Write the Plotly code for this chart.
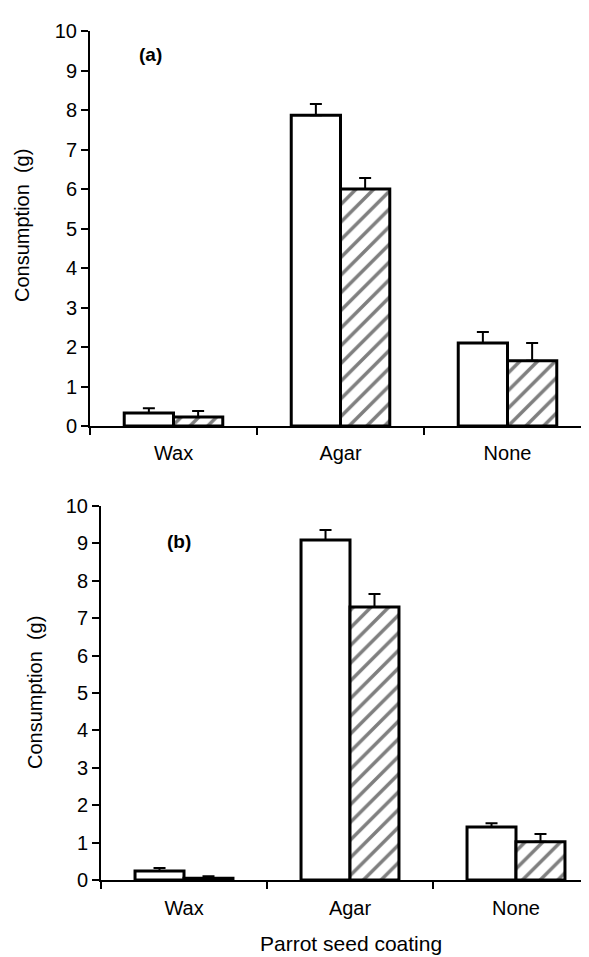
import plotly.graph_objects as go

categories = ["Wax", "Agar", "None"]

# Panel (a)
a_open = [0.33, 7.87, 2.10]
a_open_err = [0.12, 0.28, 0.28]
a_hatch = [0.23, 6.00, 1.65]
a_hatch_err = [0.15, 0.28, 0.45]

# Panel (b)
b_open = [0.24, 9.09, 1.42]
b_open_err = [0.08, 0.27, 0.10]
b_hatch = [0.05, 7.30, 1.02]
b_hatch_err = [0.05, 0.35, 0.21]

y_ticks = list(range(0, 11))

W, H = 589, 957
OFF = 8  # page body margin
FONT = "Liberation Sans, Arial, sans-serif"


def err(vals):
    return dict(type="data", array=vals, arrayminus=[0] * len(vals), symmetric=False,
                color="black", thickness=2, width=6)


fig = go.Figure()

for (op, ope, ha, hae, xa, ya) in [
    (a_open, a_open_err, a_hatch, a_hatch_err, "x", "y"),
    (b_open, b_open_err, b_hatch, b_hatch_err, "x2", "y2"),
]:
    fig.add_trace(go.Bar(
        x=categories, y=op, xaxis=xa, yaxis=ya,
        marker=dict(color="white", line=dict(color="black", width=3)),
        error_y=err(ope), showlegend=False,
    ))
    fig.add_trace(go.Bar(
        x=categories, y=ha, xaxis=xa, yaxis=ya,
        marker=dict(color="white", line=dict(color="black", width=3),
                    pattern=dict(shape="/", fgcolor="black", bgcolor="white",
                                 size=12.5, solidity=0.28)),
        error_y=err(hae), showlegend=False,
    ))


def py(p):
    return 1 - (p - OFF) / H


def px(p):
    return (p - OFF) / W


axis_common = dict(showline=True, linecolor="black", linewidth=2, ticks="outside",
                   ticklen=7, tickwidth=2, tickcolor="black", showgrid=False,
                   zeroline=False, automargin=False,
                   tickfont=dict(family=FONT, size=20, color="black"))

right_edge = W + OFF  # screen position of figure's right edge

fig.update_layout(
    width=W, height=H,
    margin=dict(l=0, r=0, t=0, b=0, pad=0),
    plot_bgcolor="white", paper_bgcolor="white",
    barmode="group", bargap=0.41, bargroupgap=0,
    font=dict(family=FONT, size=20, color="black"),
    xaxis=dict(domain=[px(90), 1], anchor="y", type="category",
               range=[-0.5, -0.5 + (right_edge - 90) / 167],
               tickson="boundaries", ticklabelstandoff=8, **axis_common),
    yaxis=dict(domain=[py(426), py(31)], anchor="x", range=[0, 10], tickvals=y_ticks,
               **axis_common),
    xaxis2=dict(domain=[px(101), 1], anchor="y2", type="category",
                range=[-0.5, -0.5 + (right_edge - 101) / 166],
                tickson="boundaries", ticklabelstandoff=9, **axis_common),
    yaxis2=dict(domain=[py(880), py(506)], anchor="x2", range=[0, 10], tickvals=y_ticks,
                **axis_common),
)

ann = dict(xref="paper", yref="paper", showarrow=False, xanchor="center", yanchor="middle")
fig.add_annotation(text="<b>(a)</b>", x=px(150), y=py(55),
                   font=dict(family=FONT, size=19, color="black"), **ann)
fig.add_annotation(text="<b>(b)</b>", x=px(179), y=py(541),
                   font=dict(family=FONT, size=19, color="black"), **ann)
fig.add_annotation(text="Consumption\u00a0\u00a0(g)", x=px(22), y=py(226), textangle=-90,
                   font=dict(family=FONT, size=20, color="black"), **ann)
fig.add_annotation(text="Consumption\u00a0\u00a0(g)", x=px(35), y=py(693), textangle=-90,
                   font=dict(family=FONT, size=20, color="black"), **ann)
fig.add_annotation(text="Parrot seed coating", x=px(351), y=py(943),
                   font=dict(family=FONT, size=21, color="black"), **ann)

fig.write_html("out.html")
